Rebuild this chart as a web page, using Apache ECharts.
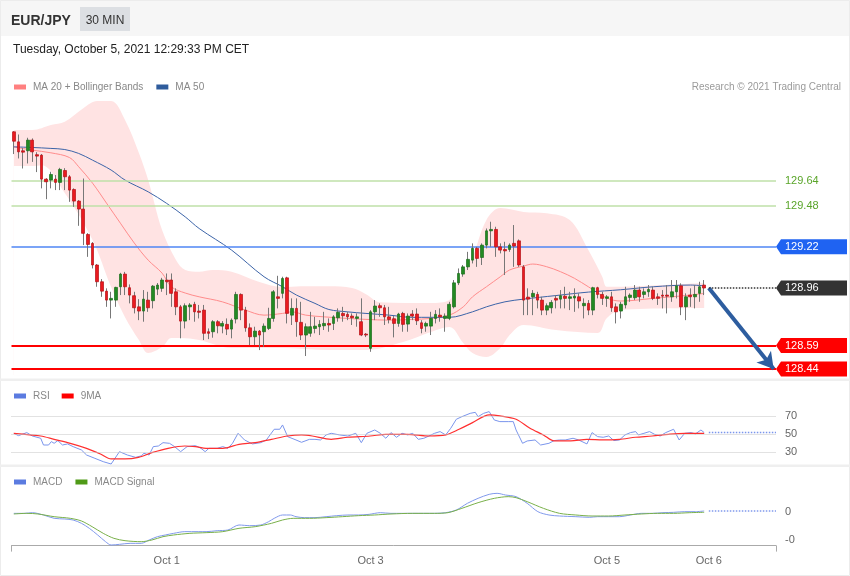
<!DOCTYPE html>
<html><head><meta charset="utf-8">
<script src="https://cdn.jsdelivr.net/npm/echarts@6/dist/echarts.min.js"></script>
<style>html,body{margin:0;padding:0;background:#fff}#c{width:850px;height:576px}</style>
</head><body><div id="c"></div>
<script>
// ---- candles (30 min EUR/JPY) ----
const opens = [129.954,129.890,129.833,129.833,129.901,129.808,129.805,129.652,129.646,129.652,
129.631,129.707,129.667,129.586,129.512,129.461,129.299,129.242,129.104,128.997,
128.937,128.880,128.880,128.965,129.046,128.959,128.908,128.837,128.810,128.880,
128.876,128.950,128.955,129.008,129.008,128.933,128.837,128.746,128.837,128.853,
128.810,128.816,128.678,128.678,128.742,128.714,128.725,128.695,128.759,128.916,
128.816,128.703,128.646,128.682,128.678,128.699,128.763,128.901,128.923,129.022,
128.784,128.827,128.738,128.657,128.668,128.699,128.710,128.716,128.731,128.731,
128.767,128.795,128.789,128.778,128.763,128.742,128.663,128.572,128.805,128.844,
128.831,128.773,128.761,128.731,128.795,128.727,128.791,128.791,128.735,128.714,
128.714,128.763,128.784,128.763,128.763,128.837,128.990,129.046,129.092,129.135,
129.210,129.152,129.231,129.322,129.331,129.220,129.203,129.203,129.242,129.258,
129.092,128.899,128.901,128.916,128.880,128.816,128.831,128.891,128.886,128.905,
128.891,128.893,128.901,128.844,128.859,128.816,128.959,128.916,128.891,128.901,
128.837,128.810,128.849,128.897,128.895,128.944,128.916,128.933,128.944,128.901,
128.912,128.912,128.901,128.933,128.971,128.837,128.912,128.901,128.923,128.976];
const closes = [129.894,129.826,129.824,129.901,129.826,129.799,129.652,129.635,129.682,129.631,
129.714,129.667,129.582,129.512,129.461,129.306,129.235,129.104,128.997,128.937,
128.880,128.891,128.961,129.046,128.965,128.912,128.831,128.810,128.886,128.831,
128.969,128.976,129.008,128.997,128.923,128.837,128.746,128.844,128.849,128.805,
128.802,128.668,128.668,128.742,128.716,128.731,128.695,128.752,128.916,128.816,
128.703,128.646,128.682,128.657,128.714,128.763,128.933,128.891,129.018,128.795,
128.827,128.742,128.657,128.710,128.710,128.714,128.725,128.731,128.721,128.773,
128.802,128.780,128.773,128.767,128.773,128.657,128.657,128.805,128.842,128.831,
128.773,128.756,128.731,128.791,128.725,128.778,128.778,128.748,128.699,128.731,
128.763,128.789,128.773,128.778,128.853,128.990,129.050,129.092,129.140,129.210,
129.146,129.231,129.322,129.331,129.220,129.199,129.194,129.231,129.225,129.104,
128.880,128.886,128.923,128.880,128.816,128.844,128.865,128.880,128.908,128.891,
128.901,128.905,128.874,128.859,128.816,128.959,128.916,128.891,128.901,128.831,
128.805,128.853,128.901,128.912,128.944,128.901,128.933,128.948,128.891,128.891,
128.905,128.905,128.933,128.971,128.837,128.901,128.901,128.916,128.965,128.957];
const highs = [129.958,129.937,129.850,129.916,129.912,129.824,129.812,129.658,129.699,129.678,
129.724,129.722,129.678,129.593,129.518,129.656,129.307,129.250,129.110,129.014,
128.955,128.933,128.965,129.054,129.060,128.980,128.933,128.886,128.944,128.933,
128.976,128.989,129.022,129.050,129.050,128.955,128.849,128.859,128.861,128.869,
128.849,128.849,128.699,128.752,128.752,128.746,128.763,128.763,128.933,128.923,
128.837,128.731,128.710,128.689,128.731,128.831,128.944,129.035,129.029,129.029,
128.891,128.891,128.869,128.731,128.805,128.773,128.752,128.805,128.763,128.784,
128.827,128.837,128.805,128.795,128.795,128.891,128.670,128.816,128.880,128.859,
128.849,128.837,128.778,128.799,128.805,128.795,128.816,128.827,128.752,128.742,
128.805,128.816,128.827,128.795,128.869,129.008,129.082,129.104,129.188,129.242,
129.220,129.242,129.337,129.380,129.348,129.242,129.252,129.242,129.359,129.267,
129.104,128.955,128.944,128.933,128.901,128.859,128.880,128.912,128.944,128.965,
128.933,128.955,128.923,128.891,128.880,128.965,128.965,128.933,128.912,128.933,
128.859,128.869,128.965,128.923,128.976,128.965,128.955,128.976,128.965,128.923,
128.944,128.976,129.008,129.008,128.987,128.923,128.955,128.976,128.997,129.008];
const lows = [129.812,129.784,129.720,129.752,129.762,129.697,129.593,129.524,129.593,129.582,
129.582,129.582,129.507,129.475,129.354,129.231,129.156,129.082,128.965,128.901,
128.837,128.763,128.837,128.912,128.912,128.859,128.795,128.752,128.742,128.805,
128.827,128.912,128.933,128.912,128.837,128.784,128.636,128.699,128.752,128.742,
128.763,128.625,128.631,128.640,128.668,128.668,128.657,128.636,128.731,128.752,
128.678,128.593,128.593,128.561,128.582,128.689,128.742,128.827,128.891,128.731,
128.721,128.646,128.625,128.523,128.646,128.668,128.657,128.689,128.678,128.689,
128.742,128.742,128.752,128.721,128.710,128.650,128.644,128.550,128.752,128.773,
128.721,128.731,128.642,128.710,128.678,128.678,128.752,128.721,128.668,128.678,
128.657,128.731,128.742,128.678,128.752,128.827,128.976,129.029,129.072,129.114,
129.092,129.104,129.210,129.220,129.156,129.178,129.040,129.188,129.092,129.092,
128.784,128.784,128.784,128.827,128.784,128.784,128.795,128.827,128.827,128.827,
128.816,128.805,128.827,128.763,128.784,128.784,128.891,128.849,128.837,128.805,
128.731,128.763,128.827,128.869,128.880,128.869,128.891,128.901,128.880,128.849,
128.827,128.795,128.869,128.891,128.784,128.752,128.837,128.827,128.869,128.912];

// ---- overlays (candle index, value) ----
const ma20X = [0,4,8,12,14,17,20,23,26,29,32,34,37,40,45,50,54,58,60,63,67,72,76,81,86,90,94,97,99,102,105,107,110,112,115,118,121,124,128,131,138,146,149];
const ma20Y = [129.858,129.837,129.82,129.79,129.731,129.626,129.499,129.371,129.244,129.135,129.052,128.965,128.925,128.901,128.869,128.816,128.784,128.795,128.805,128.784,128.773,128.763,128.757,128.752,128.757,128.763,128.784,128.837,128.901,128.965,129.029,129.072,129.097,129.11,129.093,129.061,129.019,128.965,128.893,128.874,128.891,128.912,128.923];
const ma50X = [0,4,8,11,14,17,21,24,29,33,37,40,47,54,58,61,65,68,72,76,81,86,94,99,102,106,110,117,124,131,138,146,149];
const ma50Y = [129.858,129.854,129.848,129.841,129.816,129.773,129.71,129.646,129.571,129.497,129.411,129.337,129.199,129.029,128.965,128.912,128.859,128.82,128.805,128.795,128.784,128.77,128.77,128.805,128.837,128.869,128.886,128.909,128.931,128.946,128.965,128.976,128.971];
const upperX = [0,4,8,11,15,18,21,24,27,29,32,35,37,40,43,47,53,58,62,68,73,76,79,90,94,96,99,102,105,110,115,120,124,127,128,131,140,149];
const upperY = [129.965,129.965,129.997,130.018,130.105,130.15,130.15,130.029,129.818,129.646,129.327,129.136,129.072,129.061,129.072,129.061,128.995,128.963,128.969,128.969,128.957,128.918,128.867,128.861,128.88,129.008,129.156,129.391,129.467,129.443,129.435,129.391,129.199,129.029,128.965,128.965,128.976,128.989];
const lowerX = [0,4,6,11,17,21,24,27,29,32,34,36,40,47,58,68,76,84,90,94,97,99,102,105,107,110,117,126,128,131,149.4];
const lowerY = [129.735,129.735,129.741,129.563,129.263,128.963,128.771,128.625,128.542,128.58,128.638,128.638,128.625,128.574,128.574,128.561,128.561,128.612,128.676,128.708,128.606,128.542,128.517,128.574,128.657,128.721,128.689,128.67,128.765,128.817,128.829];

// ---- levels ----
const resistance = [129.64, 129.48];
const pivot = 129.22;
const support = [128.59, 128.44];

// ---- RSI ----
const rsiX = [0,1,2.8,4,5.8,6.4,7.5,8.1,8.7,9.5,10.5,11.6,12.8,14.6,15.7,17.5,19.3,21,21.6,22.8,24.5,26.3,27.5,28.1,29.2,30.1,31.2,32.2,33.6,34.7,36,37.4,39.2,40.4,41.3,42.1,43.9,45.1,46.2,47.2,48.4,49.8,51.5,53.3,54.5,56.2,57.4,58,59.1,60.9,62.1,63.8,65,66.2,67.4,68.5,70.3,72.1,73.8,75,76.2,77.9,79.1,80.3,81.4,82.6,83.8,85,86.1,87.3,88.5,89.6,90.8,92,93.2,94.3,95.5,96.7,98.5,99.6,100.2,101.4,102.6,103.7,104.9,106.7,107.8,108.4,109.8,110.8,112.5,113.7,115.5,116.6,117.8,119,120.7,121.9,123.7,124.8,126,127.2,128.4,129.5,130.7,131.9,133.1,134.2,134.8,136,137.2,138.3,139.5,140.7,142.4,143.6,144.8,146.2,147.1,148.3,149];
const rsiY = [51.1,48.5,51.9,48.1,45.6,38.1,38.1,41.9,40,43,38.1,39.3,36.3,32.6,27,23.3,19.6,17,21.5,30.7,27,24.4,26,28.9,27,36.3,37,40.7,40,36.3,30.7,36.3,37.4,34.4,30.7,34.4,34.4,36.3,34.4,40,51.1,43.7,39.3,40.7,43.7,55.6,55.6,60.4,47.4,43.7,41.1,44.4,44.4,43.7,49.3,51.1,49.3,48.1,51.1,40.7,51.1,54.8,51.1,45.6,51.9,46.7,51.1,49.3,51.1,44.4,45.6,48.1,51.1,53,49.3,56.7,66.7,69.6,73.3,74.4,69.6,73.3,75.2,65.9,64.1,64.1,64.1,54.8,40,42.6,43.7,38.1,40,43,43.7,43.7,45.6,43.7,39.3,51.9,47.4,46.7,48.1,43,43.7,49.3,51.9,53,49.3,51.1,53,50,48.1,51.9,55.6,43.7,51.1,51.9,50.4,54.8,51.9];
const rsiMaX = [0,5.8,8.7,12.2,15.7,18.7,21,24,26.9,29.8,33.3,36.9,39.2,41.5,45.1,48.6,52.1,55.6,59.1,62.1,64.4,68.5,72.1,76.9,80.3,85,89.6,93.2,96.1,99,102.6,104.9,108.4,111.4,114.3,116.6,120.2,123.7,127.2,130.7,134.2,137.8,141.3,144.8,149];
const rsiMaY = [51.1,48.1,44.4,40,34.4,28.1,22.6,22.6,24.4,29.6,34.4,37,36.3,34.4,34.4,38.9,40.7,44.4,48.1,49.3,48.1,44.4,46.7,48.1,50,50,48.1,49.3,55.6,63,71.5,70.4,66.7,56.7,49.3,42.6,42.6,44.4,43.7,44.4,46.7,48.1,50,51.1,51.1];
const rsiLevels = [70, 50, 30];

// ---- MACD ----
const macdX = [0,2.3,4,6.4,8.7,11,12.8,14.6,16.3,18.1,19.8,21,22.8,25.1,27.5,29.2,31,32.7,34.5,36.9,39.8,41.5,43.9,46.2,48.6,50.9,53.3,55,56.2,58,59.7,60.9,62.7,65,67.4,69.7,72.1,74.4,76.7,79.1,81.4,83.8,86.1,88.5,90.8,93.2,95.5,97.9,100.2,102.6,104.3,106.1,108.4,110.8,113.1,115.5,117.8,121.3,124.3,126,128.4,130.7,133.1,135.4,137.8,140.1,142.4,144.8,147.1,149];
const macdY = [-0.0048,-0.0048,-0.0024,-0.0107,-0.0226,-0.025,-0.0286,-0.0405,-0.0583,-0.0821,-0.106,-0.1179,-0.1155,-0.1119,-0.1119,-0.1,-0.0881,-0.0821,-0.0762,-0.0702,-0.0702,-0.0702,-0.0667,-0.0643,-0.0464,-0.0488,-0.0464,-0.0345,-0.0226,-0.0107,-0.0107,-0.0167,-0.0202,-0.0202,-0.0167,-0.0131,-0.0107,-0.0107,-0.0083,-0.0024,-0.0048,-0.0048,-0.0048,-0.0048,-0.0048,-0.0024,0.0071,0.031,0.0488,0.0631,0.0667,0.0607,0.0548,0.031,0.0012,-0.0107,-0.0143,-0.0167,-0.019,-0.0167,-0.0167,-0.0167,-0.0107,-0.0048,-0.0048,-0.0024,-0.0012,0.0012,0.0012,0.0036];
const signalX = [0,2.8,5.2,8.7,12.2,14.6,16.9,19.3,21.6,24,27.5,29.8,32.2,34.5,38,41.5,45.1,48.6,52.1,55.6,58,60.3,63.8,67.4,70.9,74.4,77.9,81.4,86.1,90.8,93.7,96.7,100.2,103.7,106.7,108.4,110.8,114.3,117.8,121.3,124.8,128.4,131.9,135.4,138.9,142.4,145.9,149];
const signalY = [-0.0071,-0.0048,-0.0071,-0.0167,-0.0226,-0.0321,-0.0524,-0.0762,-0.094,-0.1024,-0.106,-0.1,-0.0881,-0.0821,-0.0762,-0.0738,-0.0702,-0.0583,-0.0524,-0.0405,-0.0286,-0.0226,-0.0226,-0.0202,-0.0167,-0.0131,-0.0107,-0.0071,-0.0048,-0.0048,-0.0024,0.0131,0.0333,0.0488,0.0548,0.0512,0.0369,0.0131,-0.0048,-0.0107,-0.0143,-0.0143,-0.0107,-0.0071,-0.0048,-0.0048,-0.0024,-0.0012];
const macdTicks = [0, -0.1];

// ---- x tick labels ----
const tickLabels = ['Oct 1', 'Oct 3', 'Oct 5', 'Oct 6'];
const tickIdx = [33, 77, 128, 150];

// ---------------------------------------------------------------
const N = 165;
const FONT = '"Liberation Sans", Arial, sans-serif';
const zip = (xs, ys) => xs.map((x, i) => [x, ys[i]]);
const lastIdx = closes.length - 1;
const lastClose = closes[lastIdx];
const cats = Array.from({length: N}, (_, i) => String(i));
const candleFull = opens.map((o, i) => [o, closes[i], lows[i], highs[i]]);
const candleBody = opens.map((o, i) => [o, closes[i], Math.min(o, closes[i]), Math.max(o, closes[i])]);
const tagPath = 'path://M0,7.5L5,0L71,0L71,15L5,15Z';
function tag(value, color) {
  return {
    coord: [N - 0.5, value], symbol: tagPath, symbolSize: [71, 15], symbolOffset: [35.5, 0],
    symbolKeepAspect: false, itemStyle: {color: color},
    label: {show: true, position: 'insideLeft', distance: 9, color: '#fff', fontSize: 11, fontFamily: FONT, formatter: value.toFixed(2)}
  };
}
const G = {left: 11.5, width: 764.5};
const rsiLast = rsiY[rsiY.length - 1];
const macdLast = macdY[macdY.length - 1];
const legendText = {color: '#888', fontSize: 10, fontFamily: FONT, padding: [0, 0, 0, 2]};

const chart = echarts.init(document.getElementById('c'), null, {renderer: 'canvas'});
chart.setOption({
  animation: false,
  textStyle: {fontFamily: FONT},
  graphic: [
    {type: 'rect', shape: {x: 0, y: 0, width: 850, height: 36}, style: {fill: '#f6f6f6'}, z: -10},
    {type: 'rect', shape: {x: 0.5, y: 0.5, width: 849, height: 575}, style: {fill: 'none', stroke: '#ececec', lineWidth: 1}, z: -9},
    {type: 'rect', shape: {x: 0, y: 378.5, width: 850, height: 2.5}, style: {fill: '#efefef'}, z: -9},
    {type: 'rect', shape: {x: 0, y: 464.5, width: 850, height: 2.5}, style: {fill: '#efefef'}, z: -9},
    {type: 'text', x: 11, y: 21, style: {text: 'EUR/JPY', fontSize: 14, fontWeight: 'bold', fontFamily: FONT, fill: '#333', verticalAlign: 'middle'}},
    {type: 'rect', shape: {x: 80, y: 7, width: 50, height: 24}, style: {fill: '#dcdfe3'}},
    {type: 'text', x: 105, y: 21, style: {text: '30 MIN', fontSize: 12, fontFamily: FONT, fill: '#333', align: 'center', verticalAlign: 'middle'}},
    {type: 'text', x: 13, y: 50, style: {text: 'Tuesday, October 5, 2021 12:29:33 PM CET', fontSize: 12, fontFamily: FONT, fill: '#222', verticalAlign: 'middle'}},
    {type: 'text', x: 841, y: 87, style: {text: 'Research \u00a9 2021 Trading Central', fontSize: 10, fontFamily: FONT, fill: '#9a9a9a', align: 'right', verticalAlign: 'middle'}}
  ],
  legend: [
    {left: 14, top: 82, padding: 0, itemWidth: 12, itemHeight: 5, itemGap: 13, icon: 'rect', selectedMode: false,
     textStyle: legendText,
     data: [{name: 'MA 20 + Bollinger Bands', itemStyle: {color: '#ff8080'}}, {name: 'MA 50', itemStyle: {color: '#2f5c9c'}}]},
    {left: 14, top: 391, padding: 0, itemWidth: 12, itemHeight: 5, itemGap: 12, icon: 'rect', selectedMode: false,
     textStyle: legendText,
     data: [{name: 'RSI', itemStyle: {color: '#5b7be0'}}, {name: '9MA', itemStyle: {color: '#ff0000'}}]},
    {left: 14, top: 477, padding: 0, itemWidth: 12, itemHeight: 5, itemGap: 13, icon: 'rect', selectedMode: false,
     textStyle: legendText,
     data: [{name: 'MACD', itemStyle: {color: '#5b7be0'}}, {name: 'MACD Signal', itemStyle: {color: '#4f9a17'}}]}
  ],
  grid: [
    {left: G.left, width: G.width, top: 101.1, height: 274.2},
    {left: G.left, width: G.width, top: 402.8, height: 63},
    {left: G.left, width: G.width, top: 489.6, height: 56}
  ],
  xAxis: [
    {type: 'category', gridIndex: 0, data: cats, boundaryGap: true, show: false},
    {type: 'value', gridIndex: 0, min: -0.5, max: N - 0.5, show: false},
    {type: 'value', gridIndex: 1, min: -0.5, max: N - 0.5, show: false},
    {type: 'value', gridIndex: 2, min: -0.5, max: N - 0.5, position: 'bottom',
     axisLine: {show: true, onZero: false, lineStyle: {color: '#aaa', width: 1}},
     axisTick: {show: true, customValues: [-0.5, N - 0.5], length: 6, lineStyle: {color: '#aaa'}},
     axisLabel: {show: true, customValues: tickIdx, formatter: v => tickLabels[tickIdx.indexOf(Math.round(v))] || '', color: '#666', fontSize: 11, margin: 10},
     splitLine: {show: false}}
  ],
  yAxis: [
    {type: 'value', gridIndex: 0, min: 128.4, max: 130.15, show: false},
    {type: 'value', gridIndex: 1, min: 15, max: 85, position: 'right', axisLine: {show: false}, axisTick: {show: false}, splitLine: {show: false},
     axisLabel: {customValues: rsiLevels, color: '#666', fontSize: 11, margin: 9, padding: [2, 0, 0, 0]}},
    {type: 'value', gridIndex: 2, min: -0.12, max: 0.08, position: 'right', axisLine: {show: false}, axisTick: {show: false}, splitLine: {show: false},
     axisLabel: {customValues: macdTicks, formatter: v => v.toFixed(0), color: '#666', fontSize: 11, margin: 9, padding: [2, 0, 0, 0]}}
  ],
  series: [
    {type: 'line', name: 'upperBand', xAxisIndex: 1, yAxisIndex: 0, data: zip(upperX, upperY), smooth: 0.35, symbol: 'none',
     lineStyle: {width: 0}, areaStyle: {color: '#ffe3e3', opacity: 1, origin: 'start'}, z: 1, silent: true},
    {type: 'line', name: 'lowerBand', xAxisIndex: 1, yAxisIndex: 0, data: zip(lowerX, lowerY), smooth: 0.35, symbol: 'none',
     lineStyle: {width: 0}, areaStyle: {color: '#ffffff', opacity: 1, origin: 'start'}, z: 1, silent: true},
    {type: 'line', name: 'MA 20 + Bollinger Bands', xAxisIndex: 1, yAxisIndex: 0, data: zip(ma20X, ma20Y), smooth: 0.35, symbol: 'none',
     lineStyle: {color: '#ff8c8c', width: 1}, itemStyle: {color: '#ff8080'}, z: 3},
    {type: 'line', name: 'MA 50', xAxisIndex: 1, yAxisIndex: 0, data: zip(ma50X, ma50Y), smooth: 0.35, symbol: 'none',
     lineStyle: {color: '#3c64a8', width: 1}, itemStyle: {color: '#2f5c9c'}, z: 3},
    {type: 'line', name: 'levels', xAxisIndex: 1, yAxisIndex: 0, data: [], z: 4, silent: true,
     markLine: {symbol: 'none', silent: true, animation: false,
       data: [
         {yAxis: resistance[0], lineStyle: {color: '#bfe0a8', width: 1.5, type: 'solid'}, label: {show: true, position: 'end', distance: 9, color: '#5aa52a', fontSize: 11, formatter: p => p.value.toFixed(2)}},
         {yAxis: resistance[1], lineStyle: {color: '#bfe0a8', width: 1.5, type: 'solid'}, label: {show: true, position: 'end', distance: 9, color: '#5aa52a', fontSize: 11, formatter: p => p.value.toFixed(2)}},
         {yAxis: pivot, lineStyle: {color: '#4f86f5', width: 1.5, type: 'solid'}, label: {show: false}},
         {yAxis: support[0], lineStyle: {color: '#ff0000', width: 2, type: 'solid'}, label: {show: false}},
         {yAxis: support[1], lineStyle: {color: '#ff0000', width: 2, type: 'solid'}, label: {show: false}}
       ]}},
    {type: 'candlestick', name: 'wicks', xAxisIndex: 0, yAxisIndex: 0, data: candleFull, barWidth: 1, z: 5, silent: true,
     itemStyle: {color: '#777', color0: '#777', borderColor: '#777', borderColor0: '#777', borderWidth: 1}},
    {type: 'candlestick', name: 'bodies', xAxisIndex: 0, yAxisIndex: 0, data: candleBody, barWidth: 3.2, z: 6, silent: true,
     itemStyle: {color: '#238a23', color0: '#ea1a1f', borderColor: '#1b6d1b', borderColor0: '#b51015', borderWidth: 0.7}},
    {type: 'line', name: 'lastPrice', xAxisIndex: 1, yAxisIndex: 0, data: [[lastIdx + 1, lastClose], [N - 0.5, lastClose]], symbol: 'none',
     lineStyle: {color: '#333', width: 1.5, type: 'dotted'}, z: 7, silent: true,
     markPoint: {silent: true, animation: false, data: [tag(pivot, '#1f63f2'), tag(lastClose, '#333333'), tag(support[0], '#ff0000'), tag(support[1], '#ff0000')]},
     markLine: {silent: true, animation: false, symbol: ['none', 'arrow'], symbolSize: [14, 16],
       lineStyle: {color: '#2d5d9f', width: 4, type: 'solid'}, label: {show: false},
       data: [[{coord: [lastIdx + 1, lastClose]}, {coord: [N - 1, support[1]]}]]}},
    // RSI panel
    {type: 'line', name: 'RSI', xAxisIndex: 2, yAxisIndex: 1, data: zip(rsiX, rsiY), symbol: 'none',
     lineStyle: {color: '#7a95ec', width: 1}, itemStyle: {color: '#5b7be0'}, z: 3,
     markLine: {symbol: 'none', silent: true, animation: false, label: {show: false},
       lineStyle: {color: '#c4c4c4', width: 1, type: 'dotted'}, data: rsiLevels.map(v => ({yAxis: v}))}},
    {type: 'line', name: '9MA', xAxisIndex: 2, yAxisIndex: 1, data: zip(rsiMaX, rsiMaY), smooth: 0.3, symbol: 'none',
     lineStyle: {color: '#ff3030', width: 1.2}, itemStyle: {color: '#ff0000'}, z: 4},
    {type: 'line', name: 'rsiLast', xAxisIndex: 2, yAxisIndex: 1, data: [[lastIdx + 1, rsiLast], [N - 0.5, rsiLast]], symbol: 'none',
     lineStyle: {color: '#7a95ec', width: 1.5, type: 'dotted'}, silent: true},
    // MACD panel
    {type: 'line', name: 'MACD', xAxisIndex: 3, yAxisIndex: 2, data: zip(macdX, macdY), smooth: 0.3, symbol: 'none',
     lineStyle: {color: '#8099ec', width: 1}, itemStyle: {color: '#5b7be0'}, z: 3},
    {type: 'line', name: 'MACD Signal', xAxisIndex: 3, yAxisIndex: 2, data: zip(signalX, signalY), smooth: 0.3, symbol: 'none',
     lineStyle: {color: '#79b04a', width: 1}, itemStyle: {color: '#4f9a17'}, z: 4},
    {type: 'line', name: 'macdLast', xAxisIndex: 3, yAxisIndex: 2, data: [[lastIdx + 1, macdLast], [N - 0.5, macdLast]], symbol: 'none',
     lineStyle: {color: '#8099ec', width: 1.5, type: 'dotted'}, silent: true}
  ]
});
</script>
</body></html>
